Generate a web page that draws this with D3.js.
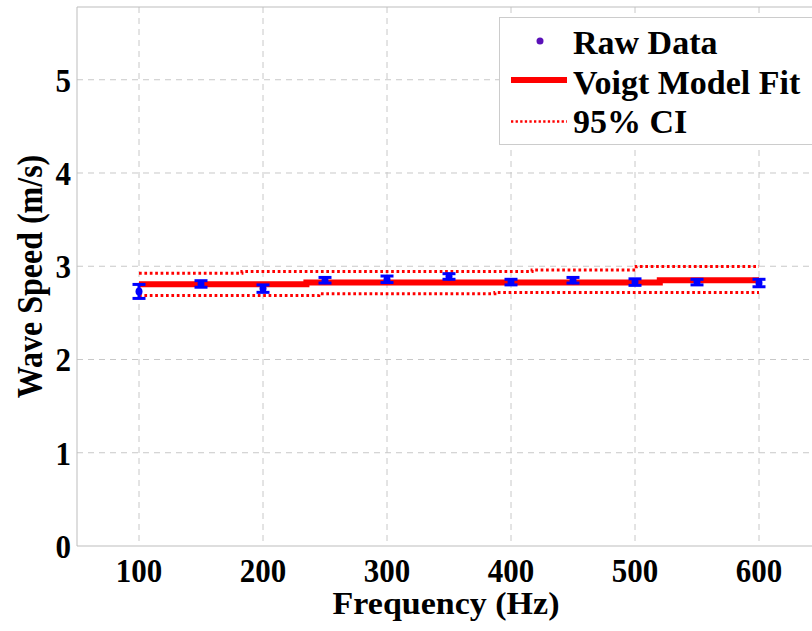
<!DOCTYPE html>
<html>
<head>
<meta charset="utf-8">
<script src="https://cdn.jsdelivr.net/npm/d3@7"></script>
<style>
  body { margin: 0; background: #fff; }
  svg { display: block; }
</style>
</head>
<body>
<svg id="chart" width="812" height="631"></svg>
<script>
var freq = [100, 150, 200, 250, 300, 350, 400, 450, 500, 550, 600];
var speed = [2.73, 2.81, 2.76, 2.85, 2.86, 2.89, 2.83, 2.85, 2.83, 2.83, 2.82];
var speedErr = [0.075, 0.035, 0.04, 0.03, 0.035, 0.03, 0.03, 0.03, 0.035, 0.03, 0.04];

// voigt fit + confidence band (drawn as steps, like the original)
var fitFreq = [100, 235, 520, 600];
var fitSpeed = [2.806, 2.826, 2.85, 2.85];
var ciUpFreq = [100, 183, 417, 501, 600];
var ciUp = [2.925, 2.943, 2.961, 2.997, 2.997];
var ciLowFreq = [100, 245, 387, 600];
var ciLow = [2.686, 2.704, 2.718, 2.718];

var xTicks = [100, 200, 300, 400, 500, 600];
var yTicks = [0, 1, 2, 3, 4, 5];

var legendLabels = ["Raw Data", "Voigt Model Fit", "95% CI"];

var svg = d3.select("#chart");
var font = "'Liberation Serif', 'Times New Roman', serif";

// plot box (right edge runs past the picture, as in the original)
var pLeft = 77, pRight = 821, pTop = 7, pBottom = 546;

var x = d3.scaleLinear().domain([50, 650]).range([pLeft, pRight]);
var y = d3.scaleLinear().domain([0, 5.78]).range([pBottom, pTop]);

// grid
svg.selectAll("line.vgrid")
    .data(xTicks)
    .enter()
    .append("line")
    .attr("class", "vgrid")
    .attr("x1", function(d) { return x(d); })
    .attr("x2", function(d) { return x(d); })
    .attr("y1", pTop)
    .attr("y2", pBottom)
    .attr("stroke", "#c8c8c8")
    .attr("stroke-width", 1)
    .attr("stroke-dasharray", "6,5");

svg.selectAll("line.hgrid")
    .data(yTicks.slice(1))
    .enter()
    .append("line")
    .attr("class", "hgrid")
    .attr("x1", pLeft)
    .attr("x2", pRight)
    .attr("y1", function(d) { return y(d); })
    .attr("y2", function(d) { return y(d); })
    .attr("stroke", "#c8c8c8")
    .attr("stroke-width", 1)
    .attr("stroke-dasharray", "6,5");

// frame
svg.append("line")
    .attr("x1", pLeft).attr("x2", pLeft)
    .attr("y1", pTop).attr("y2", pBottom)
    .attr("stroke", "#bdbdbd");
svg.append("line")
    .attr("x1", pLeft).attr("x2", pRight)
    .attr("y1", pBottom).attr("y2", pBottom)
    .attr("stroke", "#bdbdbd");
svg.append("line")
    .attr("x1", pLeft).attr("x2", pRight)
    .attr("y1", pTop).attr("y2", pTop)
    .attr("stroke", "#bdbdbd");

function stepLine(fx, fy) {
    var pts = fx.map(function(f, i) { return [f, fy[i]]; });
    return d3.line()
        .x(function(d) { return x(d[0]); })
        .y(function(d) { return y(d[1]); })
        .curve(d3.curveStepAfter)(pts);
}

// CI
svg.append("path")
    .attr("d", stepLine(ciUpFreq, ciUp))
    .attr("fill", "none")
    .attr("stroke", "#ff0000")
    .attr("stroke-width", 3)
    .attr("stroke-dasharray", "2.7,2.7");
svg.append("path")
    .attr("d", stepLine(ciLowFreq, ciLow))
    .attr("fill", "none")
    .attr("stroke", "#ff0000")
    .attr("stroke-width", 3)
    .attr("stroke-dasharray", "2.7,2.7");

// fit
svg.append("path")
    .attr("d", stepLine(fitFreq, fitSpeed))
    .attr("fill", "none")
    .attr("stroke", "#ff0000")
    .attr("stroke-width", 6);

// error bars
var bars = svg.selectAll("g.pt")
    .data(freq)
    .enter()
    .append("g")
    .attr("class", "pt");

bars.append("line")
    .attr("x1", function(d) { return x(d); })
    .attr("x2", function(d) { return x(d); })
    .attr("y1", function(d, i) { return y(speed[i] + speedErr[i]); })
    .attr("y2", function(d, i) { return y(speed[i] - speedErr[i]); })
    .attr("stroke", "#0000ff")
    .attr("stroke-width", 3);

bars.append("line")
    .attr("x1", function(d) { return x(d) - 6.5; })
    .attr("x2", function(d) { return x(d) + 6.5; })
    .attr("y1", function(d, i) { return y(speed[i] + speedErr[i]); })
    .attr("y2", function(d, i) { return y(speed[i] + speedErr[i]); })
    .attr("stroke", "#0000ff")
    .attr("stroke-width", 3);

bars.append("line")
    .attr("x1", function(d) { return x(d) - 6.5; })
    .attr("x2", function(d) { return x(d) + 6.5; })
    .attr("y1", function(d, i) { return y(speed[i] - speedErr[i]); })
    .attr("y2", function(d, i) { return y(speed[i] - speedErr[i]); })
    .attr("stroke", "#0000ff")
    .attr("stroke-width", 3);

bars.append("ellipse")
    .attr("cx", function(d) { return x(d); })
    .attr("cy", function(d, i) { return y(speed[i]); })
    .attr("rx", 3.5)
    .attr("ry", 4)
    .attr("fill", "#0000ff");

// tick labels (the original glyphs are a bit taller than wide)
svg.selectAll("text.xt")
    .data(xTicks)
    .enter()
    .append("text")
    .attr("class", "xt")
    .attr("transform", function(d) { return "translate(" + x(d) + ",582) scale(1,1.1)"; })
    .attr("text-anchor", "middle")
    .attr("font-family", font)
    .attr("font-weight", "bold")
    .attr("font-size", "31px")
    .text(function(d) { return d; });

svg.selectAll("text.yt")
    .data(yTicks)
    .enter()
    .append("text")
    .attr("class", "yt")
    .attr("transform", function(d) { return "translate(71," + (y(d) + 12) + ") scale(1,1.1)"; })
    .attr("text-anchor", "end")
    .attr("font-family", font)
    .attr("font-weight", "bold")
    .attr("font-size", "31px")
    .text(function(d) { return d; });

// axis titles
svg.append("text")
    .attr("transform", "translate(" + ((pLeft + pRight) / 2 - 3) + ",614) scale(1,0.95)")
    .attr("text-anchor", "middle")
    .attr("font-family", font)
    .attr("font-weight", "bold")
    .attr("font-size", "34px")
    .text("Frequency (Hz)");

svg.append("text")
    .attr("transform", "translate(42," + ((pTop + pBottom) / 2) + ") rotate(-90) scale(1,1.1)")
    .attr("text-anchor", "middle")
    .attr("font-family", font)
    .attr("font-weight", "bold")
    .attr("font-size", "32px")
    .text("Wave Speed (m/s)");

// legend
var lg = svg.append("g");
lg.append("rect")
    .attr("x", 499.5)
    .attr("y", 17.5)
    .attr("width", 340)
    .attr("height", 127)
    .attr("fill", "#fff")
    .attr("stroke", "#cccccc");

lg.append("circle")
    .attr("cx", 540)
    .attr("cy", 41)
    .attr("r", 3.5)
    .attr("fill", "#5a10b8");
lg.append("line")
    .attr("x1", 511).attr("x2", 567)
    .attr("y1", 80).attr("y2", 80)
    .attr("stroke", "#ff0000")
    .attr("stroke-width", 6);
lg.append("line")
    .attr("x1", 511).attr("x2", 567)
    .attr("y1", 121.5).attr("y2", 121.5)
    .attr("stroke", "#ff0000")
    .attr("stroke-width", 2.5)
    .attr("stroke-dasharray", "2.3,2.3");

lg.selectAll("text.lg")
    .data(legendLabels)
    .enter()
    .append("text")
    .attr("class", "lg")
    .attr("x", 573)
    .attr("y", function(d, i) { return 54 + i * 39.5; })
    .attr("font-family", font)
    .attr("font-weight", "bold")
    .attr("font-size", "34px")
    .text(function(d) { return d; });
</script>
</body>
</html>
